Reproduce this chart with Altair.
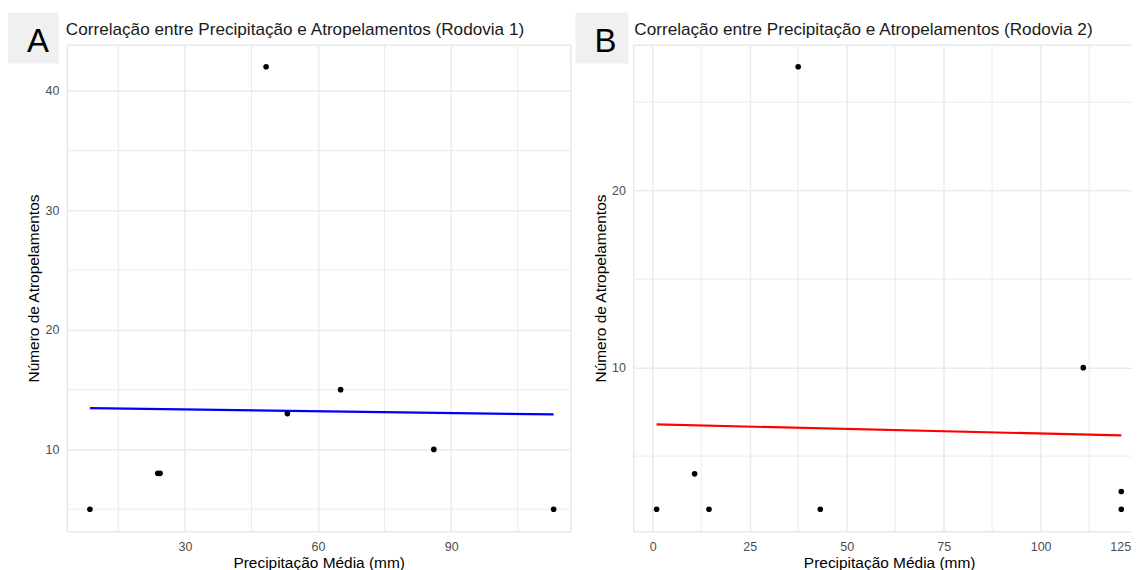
import altair as alt
import pandas as pd

# ---------------- data ----------------
# Panel A (Rodovia 1)
a_precip = [8.6, 23.9, 24.4, 48.3, 53.1, 65.1, 86.1, 113.1]
a_atrop = [5, 8, 8, 42, 13, 15, 10, 5]
a_fit_x = [8.6, 113.1]
a_fit_y = [13.46, 12.93]

# Panel B (Rodovia 2)
b_precip = [1.0, 10.8, 14.5, 37.5, 43.2, 111.0, 120.8, 120.8]
b_atrop = [2, 4, 2, 27, 2, 10, 3, 2]
b_fit_x = [1.0, 120.8]
b_fit_y = [6.79, 6.17]

# tick / grid values
a_xticks = [30, 60, 90]
a_xminor = [15, 45, 75, 105]
a_yticks = [10, 20, 30, 40]
a_yminor = [5, 15, 25, 35]
b_xticks = [0, 25, 50, 75, 100, 125]
b_xminor = [12.5, 37.5, 62.5, 87.5, 112.5]
b_yticks = [10, 20]
b_yminor = [5, 15, 25]

title_a = "Correlação entre Precipitação e Atropelamentos (Rodovia 1)"
title_b = "Correlação entre Precipitação e Atropelamentos (Rodovia 2)"
x_title = "Precipitação Média (mm)"
y_title = "Número de Atropelamentos"

FONT = "Liberation Sans"
GRID = "#ebebeb"
EDGE_TICK = 125  # last tick of panel B, which sits at the right edge


def panel(xs, ys, fx, fy, color, xdom, ydom, xt, xm, yt, ym, title, letter,
          width, height, box_x, letter_x, title_x):
    xscale = alt.Scale(domain=xdom, nice=False, zero=False)
    yscale = alt.Scale(domain=ydom, nice=False, zero=False)

    xaxis = alt.Axis(
        values=xt, title=x_title, grid=True, gridColor=GRID, gridWidth=1.5,
        domain=False, ticks=False, tickSize=0, labelPadding=19,
        labelBaseline="alphabetic", labelFlush=False, labelOverlap=False,
        labelAlign={"condition": {"test": f"datum.value == {EDGE_TICK}", "value": "right"},
                    "value": "center"},
        labelOffset={"condition": {"test": f"datum.value == {EDGE_TICK}", "value": -7},
                     "value": 0},
        labelColor="#4d4d4d", labelFontSize=12.5, labelFont=FONT,
        titleFont=FONT, titleFontSize=15.5, titleFontWeight="normal",
        titleColor="#000000", titleX=width / 2, titleY=36,
        titleBaseline="alphabetic", titleAlign="center",
    )
    yaxis = alt.Axis(
        values=yt, title=y_title, grid=True, gridColor=GRID, gridWidth=1.5,
        domain=False, ticks=False, tickSize=0, labelPadding=8,
        labelColor="#4d4d4d", labelFontSize=12.5, labelFont=FONT,
        labelOverlap=False,
        titleFont=FONT, titleFontSize=15.5, titleFontWeight="normal",
        titleColor="#000000", titleX=-33, titleY=height / 2, titleAngle=270,
        titleBaseline="middle", titleAlign="center",
    )

    pts = pd.DataFrame({"x": xs, "y": ys})
    fit = pd.DataFrame({"x": fx, "y": fy})

    minor_x = alt.Chart(pd.DataFrame({"x": xm})).mark_rule(
        color=GRID, strokeWidth=1
    ).encode(
        x=alt.X("x:Q", scale=xscale, axis=xaxis),
        y=alt.value(0), y2=alt.value(height),
    )
    minor_y = alt.Chart(pd.DataFrame({"y": ym})).mark_rule(
        color=GRID, strokeWidth=1
    ).encode(
        y=alt.Y("y:Q", scale=yscale, axis=yaxis),
        x=alt.value(0), x2=alt.value(width),
    )
    points = alt.Chart(pts).mark_circle(size=32, color="black", opacity=1).encode(
        x=alt.X("x:Q", scale=xscale, axis=xaxis),
        y=alt.Y("y:Q", scale=yscale, axis=yaxis),
    )
    line = alt.Chart(fit).mark_line(color=color, strokeWidth=2.2).encode(
        x=alt.X("x:Q", scale=xscale, axis=xaxis),
        y=alt.Y("y:Q", scale=yscale, axis=yaxis),
    )
    box = alt.Chart(pd.DataFrame({"t": [letter]})).mark_rect(color="#f0f0f0").encode(
        x=alt.value(box_x), x2=alt.value(box_x + 53),
        y=alt.value(-32), y2=alt.value(19),
    )
    letter_txt = alt.Chart(pd.DataFrame({"t": [letter]})).mark_text(
        fontSize=33, font=FONT, color="black", align="center", baseline="middle"
    ).encode(
        text="t:N", x=alt.value(letter_x), y=alt.value(-3),
    )
    title_txt = alt.Chart(pd.DataFrame({"t": [title]})).mark_text(
        fontSize=17.2, font=FONT, color="#1a1a1a", align="left", baseline="alphabetic"
    ).encode(
        text="t:N", x=alt.value(title_x), y=alt.value(-10),
    )

    return alt.layer(
        minor_x, minor_y, line, points, box, letter_txt, title_txt
    ).properties(width=width, height=height)


panel_a = panel(a_precip, a_atrop, a_fit_x, a_fit_y, "#0000ff",
                [3.4, 116.9], [3.15, 43.85], a_xticks, a_xminor,
                a_yticks, a_yminor, title_a, "A", 505, 488, -61, -29, -1)
panel_b = panel(b_precip, b_atrop, b_fit_x, b_fit_y, "#ff0000",
                [-5.0, 126.9], [0.75, 28.25], b_xticks, b_xminor,
                b_yticks, b_yminor, title_b, "B", 513, 488, -58, -28, 1)

chart = alt.hconcat(panel_a, panel_b, spacing=3).properties(
    padding={"left": -3, "top": 3, "right": -14, "bottom": 0},
    background="white",
).configure_view(strokeWidth=0).configure(font=FONT)

chart.save("out.html", embed_options={"renderer": "svg", "actions": False})
